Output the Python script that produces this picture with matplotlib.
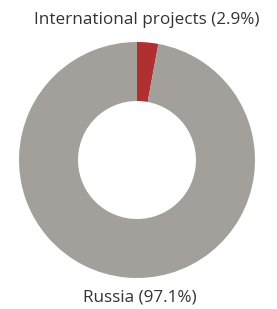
import matplotlib.pyplot as plt

labels = ["International projects (2.9%)", "Russia (97.1%)"]
shares = [2.9, 97.1]
colors = ["#b03032", "#a39f9b"]

plt.rcParams['font.family'] = ['Open Sans', 'DejaVu Sans']

fig = plt.figure(figsize=(2.77, 3.09), dpi=100)
ax = fig.add_axes([19/277, 31/309, 236/277, 236/309])
ax.pie(shares, colors=colors, startangle=90, counterclock=False,
       radius=1, wedgeprops=dict(width=0.5, edgecolor='none'))
ax.set_xlim(-1, 1)
ax.set_ylim(-1, 1)
ax.set_aspect('equal')
ax.axis('off')

fig.text(147/277, 1 - 20/309, labels[0], ha='center', va='center',
         fontsize=12.3, color='#333333')
fig.text(140/277, 1 - 298/309, labels[1], ha='center', va='center',
         fontsize=12.3, color='#333333')

fig.savefig('out.png', dpi=100)
